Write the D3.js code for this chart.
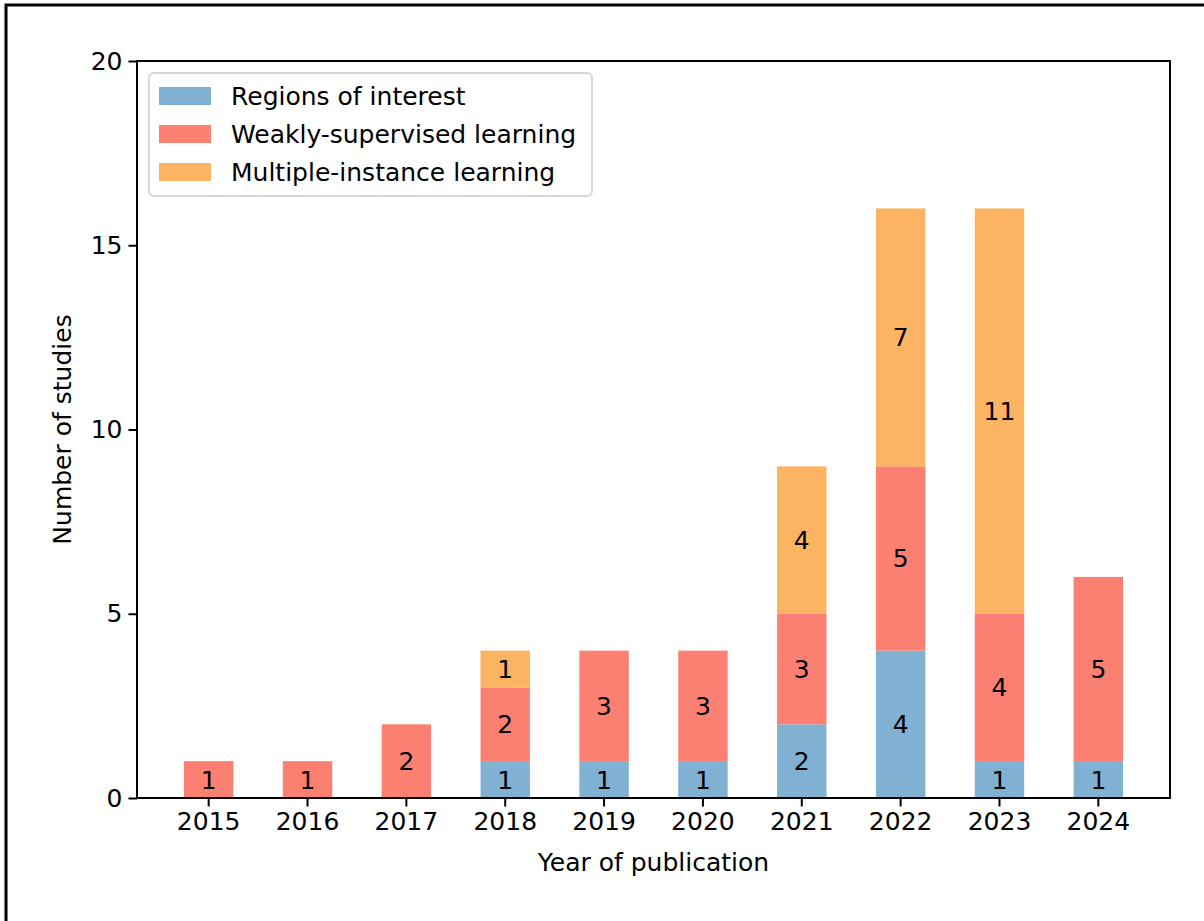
<!DOCTYPE html>
<html>
<head>
<meta charset="utf-8">
<script src="https://cdn.jsdelivr.net/npm/d3@7"></script>
<style>
  body { margin: 0; background: #fff; }
  svg { display: block; font-family: "DejaVu Sans", sans-serif; }
</style>
</head>
<body>
<svg id="chart" width="1204" height="921"></svg>
<script>
var years = ["2015", "2016", "2017", "2018", "2019", "2020", "2021", "2022", "2023", "2024"];
var regionsOfInterest = [0, 0, 0, 1, 1, 1, 2, 4, 1, 1];
var weaklySupervised = [1, 1, 2, 2, 3, 3, 3, 5, 4, 5];
var multipleInstance = [0, 0, 0, 1, 0, 0, 4, 7, 11, 0];
var seriesNames = ["Regions of interest", "Weakly-supervised learning", "Multiple-instance learning"];
var seriesColors = ["#80b1d3", "#fb8072", "#fdb462"];
var yTicks = [0, 5, 10, 15, 20];

var fontSize = "25px";
var svg = d3.select("#chart");

// figure border (cropped on right/bottom)
svg.append("rect")
  .attr("x", 6).attr("y", 5)
  .attr("width", 1400).attr("height", 1100)
  .attr("fill", "none")
  .attr("stroke", "#000")
  .attr("stroke-width", 3);

var plotLeft = 137, plotRight = 1170, plotTop = 61, plotBottom = 798;

var x = d3.scaleBand()
  .domain(years)
  .range([plotLeft, plotRight])
  .paddingInner(0.5)
  .paddingOuter(0.475);

var y = d3.scaleLinear()
  .domain([0, 20])
  .range([plotBottom, plotTop]);

var table = years.map(function(yr, i) {
  return { year: yr, roi: regionsOfInterest[i], wsl: weaklySupervised[i], mil: multipleInstance[i] };
});
var stack = d3.stack().keys(["roi", "wsl", "mil"]);
var layers = stack(table);

var g = svg.append("g");

layers.forEach(function(layer, k) {
  g.selectAll(".bar" + k)
    .data(layer)
    .enter().append("rect")
      .attr("x", function(d) { return x(d.data.year); })
      .attr("y", function(d) { return y(d[1]); })
      .attr("width", x.bandwidth())
      .attr("height", function(d) { return y(d[0]) - y(d[1]); })
      .attr("fill", seriesColors[k]);

  g.selectAll(".lbl" + k)
    .data(layer.filter(function(d) { return d[1] - d[0] > 0; }))
    .enter().append("text")
      .attr("x", function(d) { return x(d.data.year) + x.bandwidth() / 2; })
      .attr("y", function(d) { return y((d[0] + d[1]) / 2); })
      .attr("dy", "0.36em")
      .attr("text-anchor", "middle")
      .attr("font-size", fontSize)
      .attr("fill", "#000")
      .text(function(d) { return d[1] - d[0]; });
});

// axes
var xAxis = svg.append("g")
  .attr("transform", "translate(0," + plotBottom + ")")
  .call(d3.axisBottom(x).tickSize(8.5).tickPadding(6));
var yAxis = svg.append("g")
  .attr("transform", "translate(" + plotLeft + ",0)")
  .call(d3.axisLeft(y).tickValues(yTicks).tickSize(8.5).tickPadding(6));

[xAxis, yAxis].forEach(function(a) {
  a.select(".domain").remove();
  a.selectAll("line").attr("stroke", "#000").attr("stroke-width", 2);
  a.selectAll("text").attr("font-size", fontSize).attr("fill", "#000")
    .attr("font-family", "DejaVu Sans, sans-serif");
});

// frame
svg.append("rect")
  .attr("x", plotLeft).attr("y", plotTop)
  .attr("width", plotRight - plotLeft).attr("height", plotBottom - plotTop)
  .attr("fill", "none")
  .attr("stroke", "#000")
  .attr("stroke-width", 2);

svg.append("text")
  .attr("x", (plotLeft + plotRight) / 2)
  .attr("y", 871)
  .attr("text-anchor", "middle")
  .attr("font-size", fontSize)
  .text("Year of publication");

svg.append("text")
  .attr("transform", "translate(71," + (plotTop + plotBottom) / 2 + ") rotate(-90)")
  .attr("text-anchor", "middle")
  .attr("font-size", fontSize)
  .text("Number of studies");

// legend
var legend = svg.append("g").attr("transform", "translate(149,73)");
legend.append("rect")
  .attr("width", 443).attr("height", 123)
  .attr("rx", 5).attr("ry", 5)
  .attr("fill", "#fff").attr("fill-opacity", 0.8)
  .attr("stroke", "#d6d6d6").attr("stroke-width", 2);

var entry = legend.selectAll("g.legendEntry")
  .data(seriesNames)
  .enter().append("g").attr("class", "legendEntry")
  .attr("transform", function(d, i) { return "translate(0," + (23 + i * 38) + ")"; });
entry.append("rect")
  .attr("x", 10).attr("y", -9)
  .attr("width", 52).attr("height", 18)
  .attr("fill", function(d, i) { return seriesColors[i]; });
entry.append("text")
  .attr("x", 82)
  .attr("dy", "0.36em")
  .attr("font-size", fontSize)
  .text(function(d) { return d; });
</script>
</body>
</html>
